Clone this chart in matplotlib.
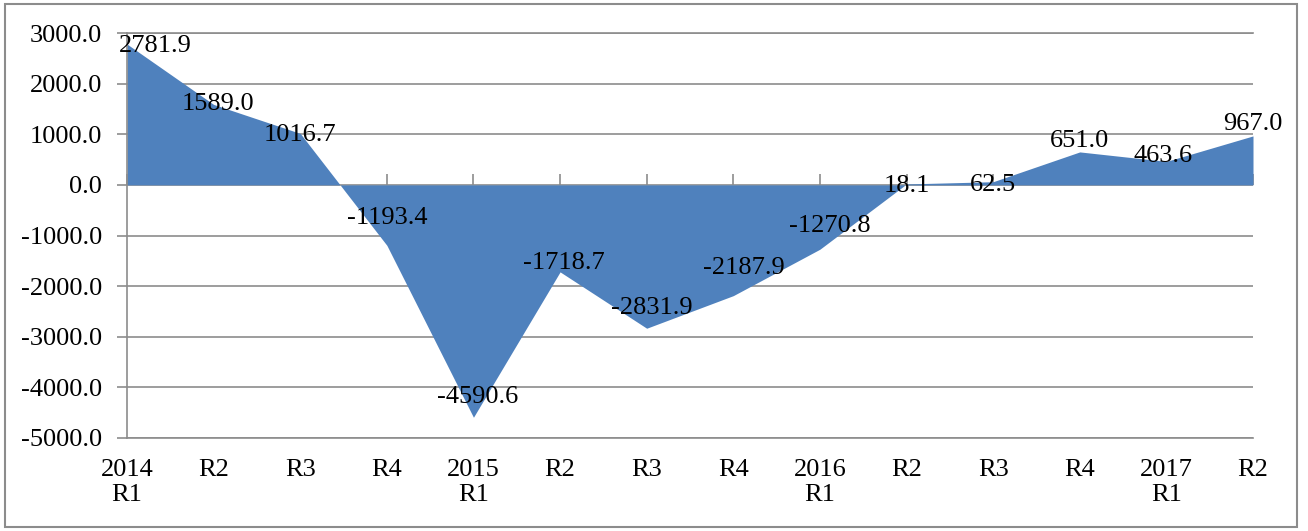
import matplotlib
matplotlib.use("Agg")
import matplotlib.pyplot as plt
from matplotlib.patches import Rectangle

plt.rcParams['font.family'] = ['Liberation Serif', 'DejaVu Serif']

# Datos
periodos = ['2014\nR1', 'R2', 'R3', 'R4', '2015\nR1', 'R2', 'R3', 'R4',
            '2016\nR1', 'R2', 'R3', 'R4', '2017\nR1', 'R2']
valores = [2781.9, 1589.0, 1016.7, -1193.4, -4590.6, -1718.7, -2831.9,
           -2187.9, -1270.8, 18.1, 62.5, 651.0, 463.6, 967.0]
y_ticks = [-5000, -4000, -3000, -2000, -1000, 0, 1000, 2000, 3000]

# desplazamiento de las etiquetas (en pixeles, como en el original)
desp = [(28, -2), (4, 0), (0, -2), (0, 27), (4, 20), (4, 9), (5, 20),
        (11, 28), (10, 23), (0, -2), (0, -3), (0, 11), (-3, 5), (0, 12)]

gris = '#8c8c8c'
azul = '#4F81BD'
fs = 19

fig = plt.figure(figsize=(13.08, 5.31), dpi=100)
ax = fig.add_axes([127/1308, 1 - 438/531, (1253 - 127)/1308, (438 - 33)/531])

x = list(range(len(valores)))
ax.fill_between(x, valores, 0, color=azul, linewidth=0, zorder=2)

ax.set_xlim(0, len(valores) - 1)
ax.set_ylim(y_ticks[0], y_ticks[-1])
ax.set_yticks(y_ticks, [f'{v:.1f}' for v in y_ticks])
ax.grid(True, axis='y', color=gris, linewidth=1.2, zorder=0)
ax.set_axisbelow(True)

ax.set_xticks(x, periodos)
ax.tick_params(axis='x', length=0, pad=15, labelsize=fs)
ax.tick_params(axis='y', length=7, color=gris, width=1.2, pad=11, labelsize=fs)

for s in ['top', 'bottom', 'left']:
    ax.spines[s].set_color(gris)
    ax.spines[s].set_linewidth(1.2)
ax.spines['right'].set_visible(False)

# eje horizontal en cero con marcas
pos0 = (0 - y_ticks[0]) / (y_ticks[-1] - y_ticks[0])
sec = ax.secondary_xaxis(pos0)
sec.set_xticks(x, [''] * len(x))
sec.tick_params(length=8, color=gris, width=1.2, direction='out')
sec.spines['bottom'].set_color(gris)
sec.spines['bottom'].set_linewidth(1.2)
sec.spines['top'].set_visible(False)

# Etiquetas de datos
for xi, v, (dx, dy) in zip(x, valores, desp):
    ax.annotate(f'{v:.1f}', (xi, v), xytext=(dx * 0.72, dy * 0.72),
                textcoords='offset points', ha='center', va='center',
                fontsize=fs, zorder=5, annotation_clip=False)

# Borde de la figura
fig.patches.append(Rectangle((5/1308, 4/531), (1297 - 5)/1308, (527 - 4)/531,
                             transform=fig.transFigure, fill=False,
                             edgecolor=gris, linewidth=1.5))

plt.savefig('out.png', dpi=100)
